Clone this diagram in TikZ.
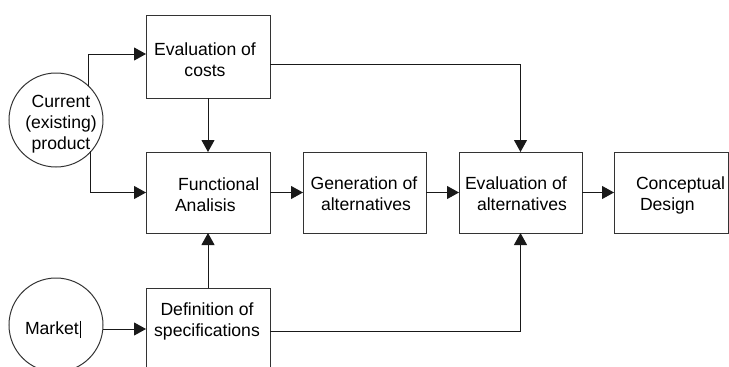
\documentclass[tikz,border=0pt]{standalone}
\usepackage{fontspec}
\setmainfont{Liberation Sans}
\usetikzlibrary{arrows.meta,calc}
\begin{document}
\begin{tikzpicture}[x=1pt,y=-1pt,
  line width=1pt,
  every node/.style={inner sep=0pt,outer sep=0pt},
  boxnode/.style={draw=black!80,rectangle,minimum width=124pt,minimum height=81pt},
  circnode/.style={draw=black!80,circle,minimum size=94pt},
  txt/.style={font=\fontsize{17.6}{21}\selectfont},
  conn/.style={draw=black!90},
  arr/.style={conn,-{Triangle[length=12pt,width=13pt]}}]
\useasboundingbox (0,0) rectangle (729,367);
\clip (0,0) rectangle (729,367);
% boxes
\node[boxnode,minimum height=83pt] (cost) at (208,56.5) {};
\node[boxnode] (func) at (208,192.5) {};
\node[boxnode,minimum width=123pt] (gen) at (364.5,192.5) {};
\node[boxnode,minimum width=123pt] (evalt) at (520.5,192.5) {};
\node[boxnode,minimum width=114pt] (conc) at (671,192.5) {};
\node[boxnode,minimum height=86pt] (def) at (208,331) {};
\node[circnode] (cur) at (56,120) {};
\node[circnode] (mkt) at (56,325) {};
% texts
\node[txt,align=center] (tcost) at (205,60) {Evaluation of\\costs};
\node[txt,align=left,anchor=west] (tfunc) at (175,195) {\hspace*{3pt}Functional\\Analisis};
\node[txt,align=center] (tgen) at (364,194) {Generation of\\\hspace*{4pt}alternatives};
\node[txt,align=left,anchor=west] (tevalt) at (465,194) {Evaluation of\\\hspace*{12pt}alternatives};
\node[txt,align=left,anchor=west] (tconc) at (636,195) {Conceptual\\\hspace*{4pt}Design};
\node[txt,align=center] (tdef) at (207,321.5) {Definition of\\specifications};
\node[txt,align=center] (tcur) at (61,124) {Current\\(existing)\\product};
\node[txt,anchor=west] (tmkt) at (25,328) {Market};
\draw[line width=0.9pt] ([xshift=1.8pt,yshift=1pt]tmkt.north east) -- ([xshift=1.8pt,yshift=-4pt]tmkt.south east);
% connectors
\draw[arr] (cur.47) |- ([yshift=2.5pt]cost.west);
\draw[arr] (cur.-42) |- (func.west);
\draw[arr] (cost.south) -- (func.north);
\draw[arr] ([yshift=-8pt]cost.east) -| (evalt.north);
\draw[arr] (func.east) -- (gen.west);
\draw[arr] (gen.east) -- (evalt.west);
\draw[arr] (evalt.east) -- (conc.west);
\draw[arr] ([yshift=-4pt]mkt.east) -- ([yshift=-4pt]mkt.east -| def.west);
\draw[arr] (def.north) -- (func.south);
\draw[arr] (def.east) -| (evalt.south);
\end{tikzpicture}
\end{document}
